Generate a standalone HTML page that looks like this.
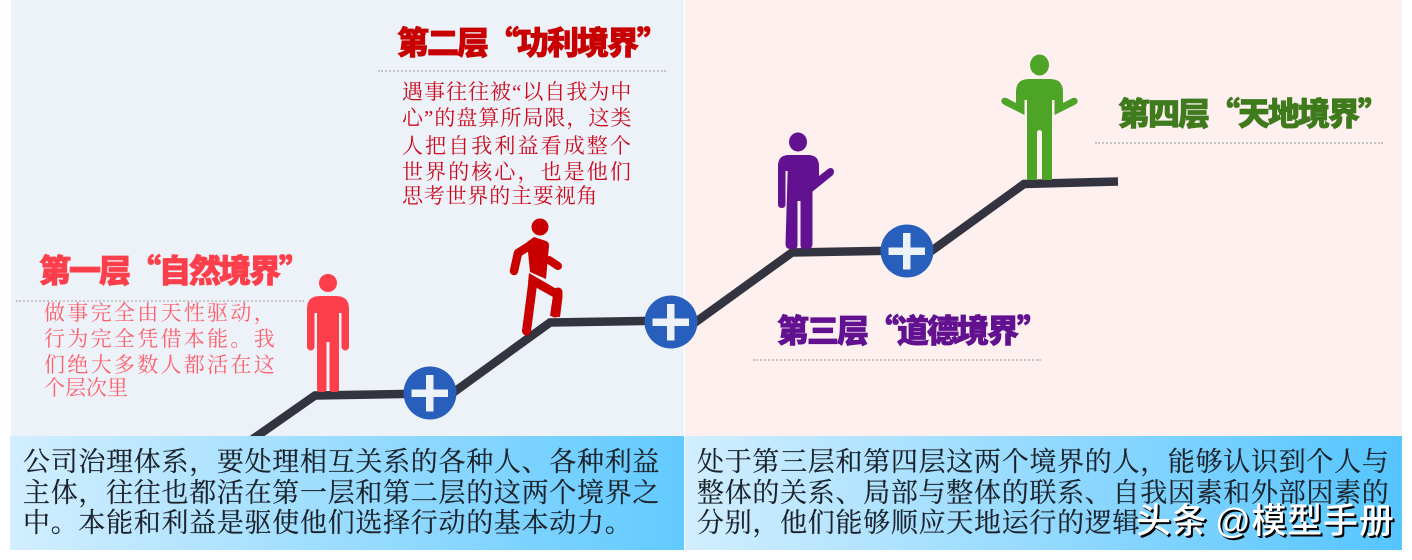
<!DOCTYPE html>
<html><head><meta charset="utf-8">
<style>
html,body{margin:0;padding:0;background:#fff}
#p{position:relative;width:1412px;height:560px;overflow:hidden;background:#fff}
.a{position:absolute}
.t{position:absolute;white-space:nowrap;font-family:"Noto Sans CJK SC",sans-serif;font-weight:900;font-size:32px;line-height:40px;letter-spacing:-2px;-webkit-text-stroke:0.8px currentColor}
.d{position:absolute;white-space:nowrap;font-family:"Liberation Serif","Noto Serif CJK SC",serif;font-size:21px;line-height:26px}
.b{position:absolute;white-space:nowrap;font-family:"Liberation Serif","Noto Serif CJK SC",serif;font-size:27px;line-height:32px;letter-spacing:0.700px;color:#1b222a;-webkit-text-stroke:0.2px #1b222a}
.r{position:absolute;height:0;border-top:2px dotted #c6c6c6;width:288px}
</style></head><body><div id="p">
<div class="a" style="left:11px;top:0;width:673px;height:436px;background:#edf2f9"></div>
<div class="a" style="left:685px;top:0;width:717px;height:436px;background:#fdf0ef"></div>

<svg class="a" style="left:0;top:0" width="1412" height="560" viewBox="0 0 1412 560">
<g fill="none" stroke="#33343f" stroke-width="8.500">
<path d="M250 441L315 395.500L430 393.500"/>
<path d="M452 393.500L550 322.500L671 320.500"/>
<path d="M693 324L792 252.500L907 250.500"/>
<path d="M930 252L1024 184L1118 181.500"/>
</g>
<g fill="#295fbc"><circle cx="430" cy="393" r="26.500"/><circle cx="671" cy="322" r="26.500"/><circle cx="907" cy="251" r="26.500"/></g>
<g fill="#edf2f9">
<path d="M426 375h7.500v14.500h14.500v7.500h-14.500v14.500h-7.500v-14.500h-14.500v-7.500h14.500z"/>
<path d="M667 304h7.500v14.500h14.500v7.500h-14.500v14.500h-7.500v-14.500h-14.500v-7.500h14.500z"/>
<path d="M903 233h7.500v14.500h14.500v7.500h-14.500v14.500h-7.500v-14.500h-14.500v-7.500h14.500z"/>
</g>

<!-- red person -->
<g fill="#fd3f4b">
<circle cx="328" cy="283" r="9"/>
<path d="M307 309q0-13 13-13h16q13 0 13 13v4h-42z"/>
<rect x="307" y="306" width="7.500" height="44.500" rx="3.750"/>
<rect x="341.500" y="306" width="7.500" height="44.500" rx="3.750"/>
<path d="M317 306h22v83q0 3-3 3h-3.500q-3 0-3-3v-47h-3v47q0 3-3 3h-3.500q-3 0-3-3z"/>
</g>

<!-- walking person -->
<g fill="#c80000" stroke="none">
<circle cx="540" cy="227" r="8.500"/>
<path d="M534 237l12 4q3 1 3 5l-3 33-16-7-3-30z"/>
<path d="M529 273l31 18q3 2 2.500 6l-2.500 20-10-1 3-19-25-14z"/>
</g>
<g fill="none" stroke="#c80000" stroke-linecap="round" stroke-linejoin="round">
<path d="M534 243L518 253L514 271" stroke-width="8.500"/>
<path d="M549 260L558 266" stroke-width="8"/>
<path d="M533 281L526.500 331" stroke-width="9"/>
<path d="M558 292L555 313" stroke-width="9"/>
</g>

<!-- purple person -->
<g fill="#621190">
<ellipse cx="798" cy="142" rx="9" ry="9.500"/>
<path d="M778 166q0-11 11-11h19q11 0 11 11v10l9-7q3-2 5 0t0 6l-21 17v-21h-34z"/>
<path d="M778 166h7.500v38q0 4-3.750 4t-3.750-4z"/>
<path d="M788 160h24.500v84q0 5-5 5h-4q-3 0-3-4v-44h-3v44q0 4-3 4h-4q-5 0-5-5z"/>
</g>

<!-- green person -->
<g fill="#4ea427">
<ellipse cx="1039.500" cy="65" rx="9.500" ry="10.500"/>
<path d="M1016 92q0-13 13-13h21q13 0 13 13v8h-47z"/>
<path d="M1016 95h8.500v20l-20-10q-4-2-3-5t5-2l9.500 5z"/>
<path d="M1063 95h-8.500v20l20-10q4-2 3-5t-5-2l-9.500 5z"/>
<path d="M1027 90h25v90h-10v-47q0-3-2.500-3t-2.500 3v47h-10z"/>
</g>
</svg>

<div class="a" style="left:10px;top:436px;width:674px;height:114px;background:linear-gradient(90deg,#d2eeff,#62caff)"></div>
<div class="a" style="left:685px;top:436px;width:717px;height:114px;background:linear-gradient(90deg,#d2eeff,#55c5ff)"></div>

<div class="r" style="left:16px;top:300px"></div>
<div class="r" style="left:378px;top:70px"></div>
<div class="r" style="left:753px;top:359px"></div>
<div class="r" style="left:1095px;top:142px"></div>

<div class="t" style="left:39px;top:249px;color:#fd3f4b">第一层“自然境界”</div>
<div class="t" style="left:397px;top:21px;color:#c80000">第二层“功利境界”</div>
<div class="t" style="left:777px;top:309px;color:#621190">第三层“道德境界”</div>
<div class="t" style="left:1118px;top:92px;color:#3f7a1d">第四层“天地境界”</div>

<div style="color:#fd5f6b">
<div class="d" style="left:44px;top:300px;letter-spacing:2.3px">做事完全由天性驱动，</div>
<div class="d" style="left:44px;top:326px;letter-spacing:2.3px">行为完全凭借本能。我</div>
<div class="d" style="left:44px;top:352px;letter-spacing:2.3px">们绝大多数人都活在这</div>
<div class="d" style="left:44px;top:375px;letter-spacing:0">个层次里</div>
</div>
<div style="color:#cc0a1e">
<div class="d" style="left:402px;top:79px;letter-spacing:1px">遇事往往被“以自我为中</div>
<div class="d" style="left:402px;top:105px;letter-spacing:1px">心”的盘算所局限，这类</div>
<div class="d" style="left:402px;top:133px;letter-spacing:2.1px">人把自我利益看成整个</div>
<div class="d" style="left:402px;top:159px;letter-spacing:2.1px">世界的核心，也是他们</div>
<div class="d" style="left:402px;top:183px;letter-spacing:0.800px">思考世界的主要视角</div>
</div>

<div class="b" style="left:23px;top:446px">公司治理体系，要处理相互关系的各种人、各种利益</div>
<div class="b" style="left:23px;top:477px">主体，往往也都活在第一层和第二层的这两个境界之</div>
<div class="b" style="left:23px;top:507px">中。本能和利益是驱使他们选择行动的基本动力。</div>
<div class="b" style="left:697px;top:446px">处于第三层和第四层这两个境界的人，能够认识到个人与</div>
<div class="b" style="left:697px;top:477px">整体的关系、局部与整体的联系、自我因素和外部因素的</div>
<div class="b" style="left:697px;top:507px">分别，他们能够顺应天地运行的逻辑</div>

<div class="a" style="left:1136px;top:502px;white-space:nowrap;font-family:'Liberation Sans','Noto Sans CJK SC',sans-serif;font-weight:500;font-size:35px;line-height:40px;letter-spacing:0.800px;word-spacing:-3px;color:#fff;text-shadow:2px 2px 0 #000,1px 1px 0 #000">头条 @模型手册</div>
</div></body></html>
